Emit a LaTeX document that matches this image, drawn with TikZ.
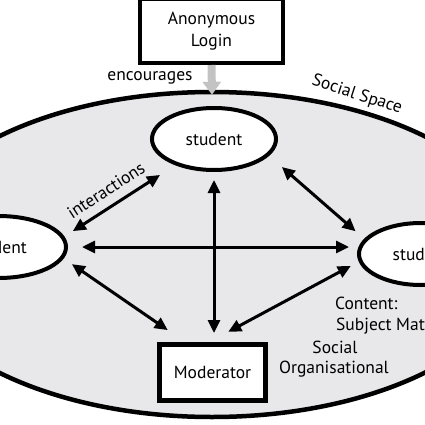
\documentclass[tikz,border=0pt]{standalone}
\usepackage{fontspec}
\setmainfont{PT Sans}
\usetikzlibrary{arrows.meta,shapes.geometric}
\definecolor{spacegray}{RGB}{232,232,235}
\definecolor{encgray}{RGB}{195,195,195}
\begin{document}
\begin{tikzpicture}[x=1pt,y=-1pt,
  font=\fontsize{17.5}{22}\selectfont,
  studentnode/.style={ellipse, draw, line width=4pt, fill=white,
    minimum width=124pt, minimum height=62pt, inner sep=0pt},
  boxnode/.style={rectangle, draw, fill=white, inner sep=0pt, align=center},
  biarrow/.style={line width=3pt,
    {Triangle[length=13pt,width=12pt]}-{Triangle[length=13pt,width=12pt]}},
  lbl/.style={inner sep=0pt}
]
\useasboundingbox (0,0) rectangle (425,425);
\clip (0,0) rectangle (425,425);
\node[ellipse, draw, line width=4.5pt, fill=spacegray, minimum width=620pt,
  minimum height=325pt, inner sep=0pt] (space) at (212,254.5) {};
\node[boxnode, line width=4pt, minimum width=143pt, minimum height=64pt] (login)
  at (211.5,31) {Anonymous\\Login};
\draw[encgray, line width=8pt, -{Triangle[length=13pt,width=18pt]}]
  (login.south) -- ([yshift=-5pt]space.north);
\node[boxnode, line width=5pt, minimum width=106pt, minimum height=56pt] (mod)
  at (212.5,372.5) {Moderator};
\node[studentnode] (stTop) at (214,139) {student};
\node[studentnode, minimum width=135pt] (stLeft) at (-1.5,247) {student};
\node[studentnode] (stRight) at (421,254) {student};
\draw[biarrow, shorten <=8pt, shorten >=9pt] (stTop.south) -- (stTop.south |- mod.north);
\draw[biarrow, shorten <=14pt, shorten >=8pt] (stLeft.east) -- (stLeft.east -| stRight.west);
\draw[biarrow, shorten <=10pt, shorten >=18pt] (stLeft.9) -- (stTop.214);
\draw[biarrow, shorten <=17pt, shorten >=11.5pt] (stTop.343) -- (stRight.165);
\draw[biarrow, shorten <=10pt, shorten >=21pt] (stLeft.350) -- (mod.132);
\draw[biarrow, shorten <=9pt, shorten >=21.5pt] (stRight.187) -- (mod.96.5);
\node[lbl] (enc) at (150,78) {encourages};
\node[lbl, rotate=-18] (soc) at (357,95) {Social Space};
\node[lbl, rotate=33] (inter) at (106,190) {interactions};
\node[lbl, anchor=west] (c1) at (335,303) {Content:};
\node[lbl, anchor=west] (c2) at (336,326) {Subject Matter};
\node[lbl] (c3) at (335,347) {Social};
\node[lbl] (c4) at (334,369) {Organisational};
\end{tikzpicture}
\end{document}
